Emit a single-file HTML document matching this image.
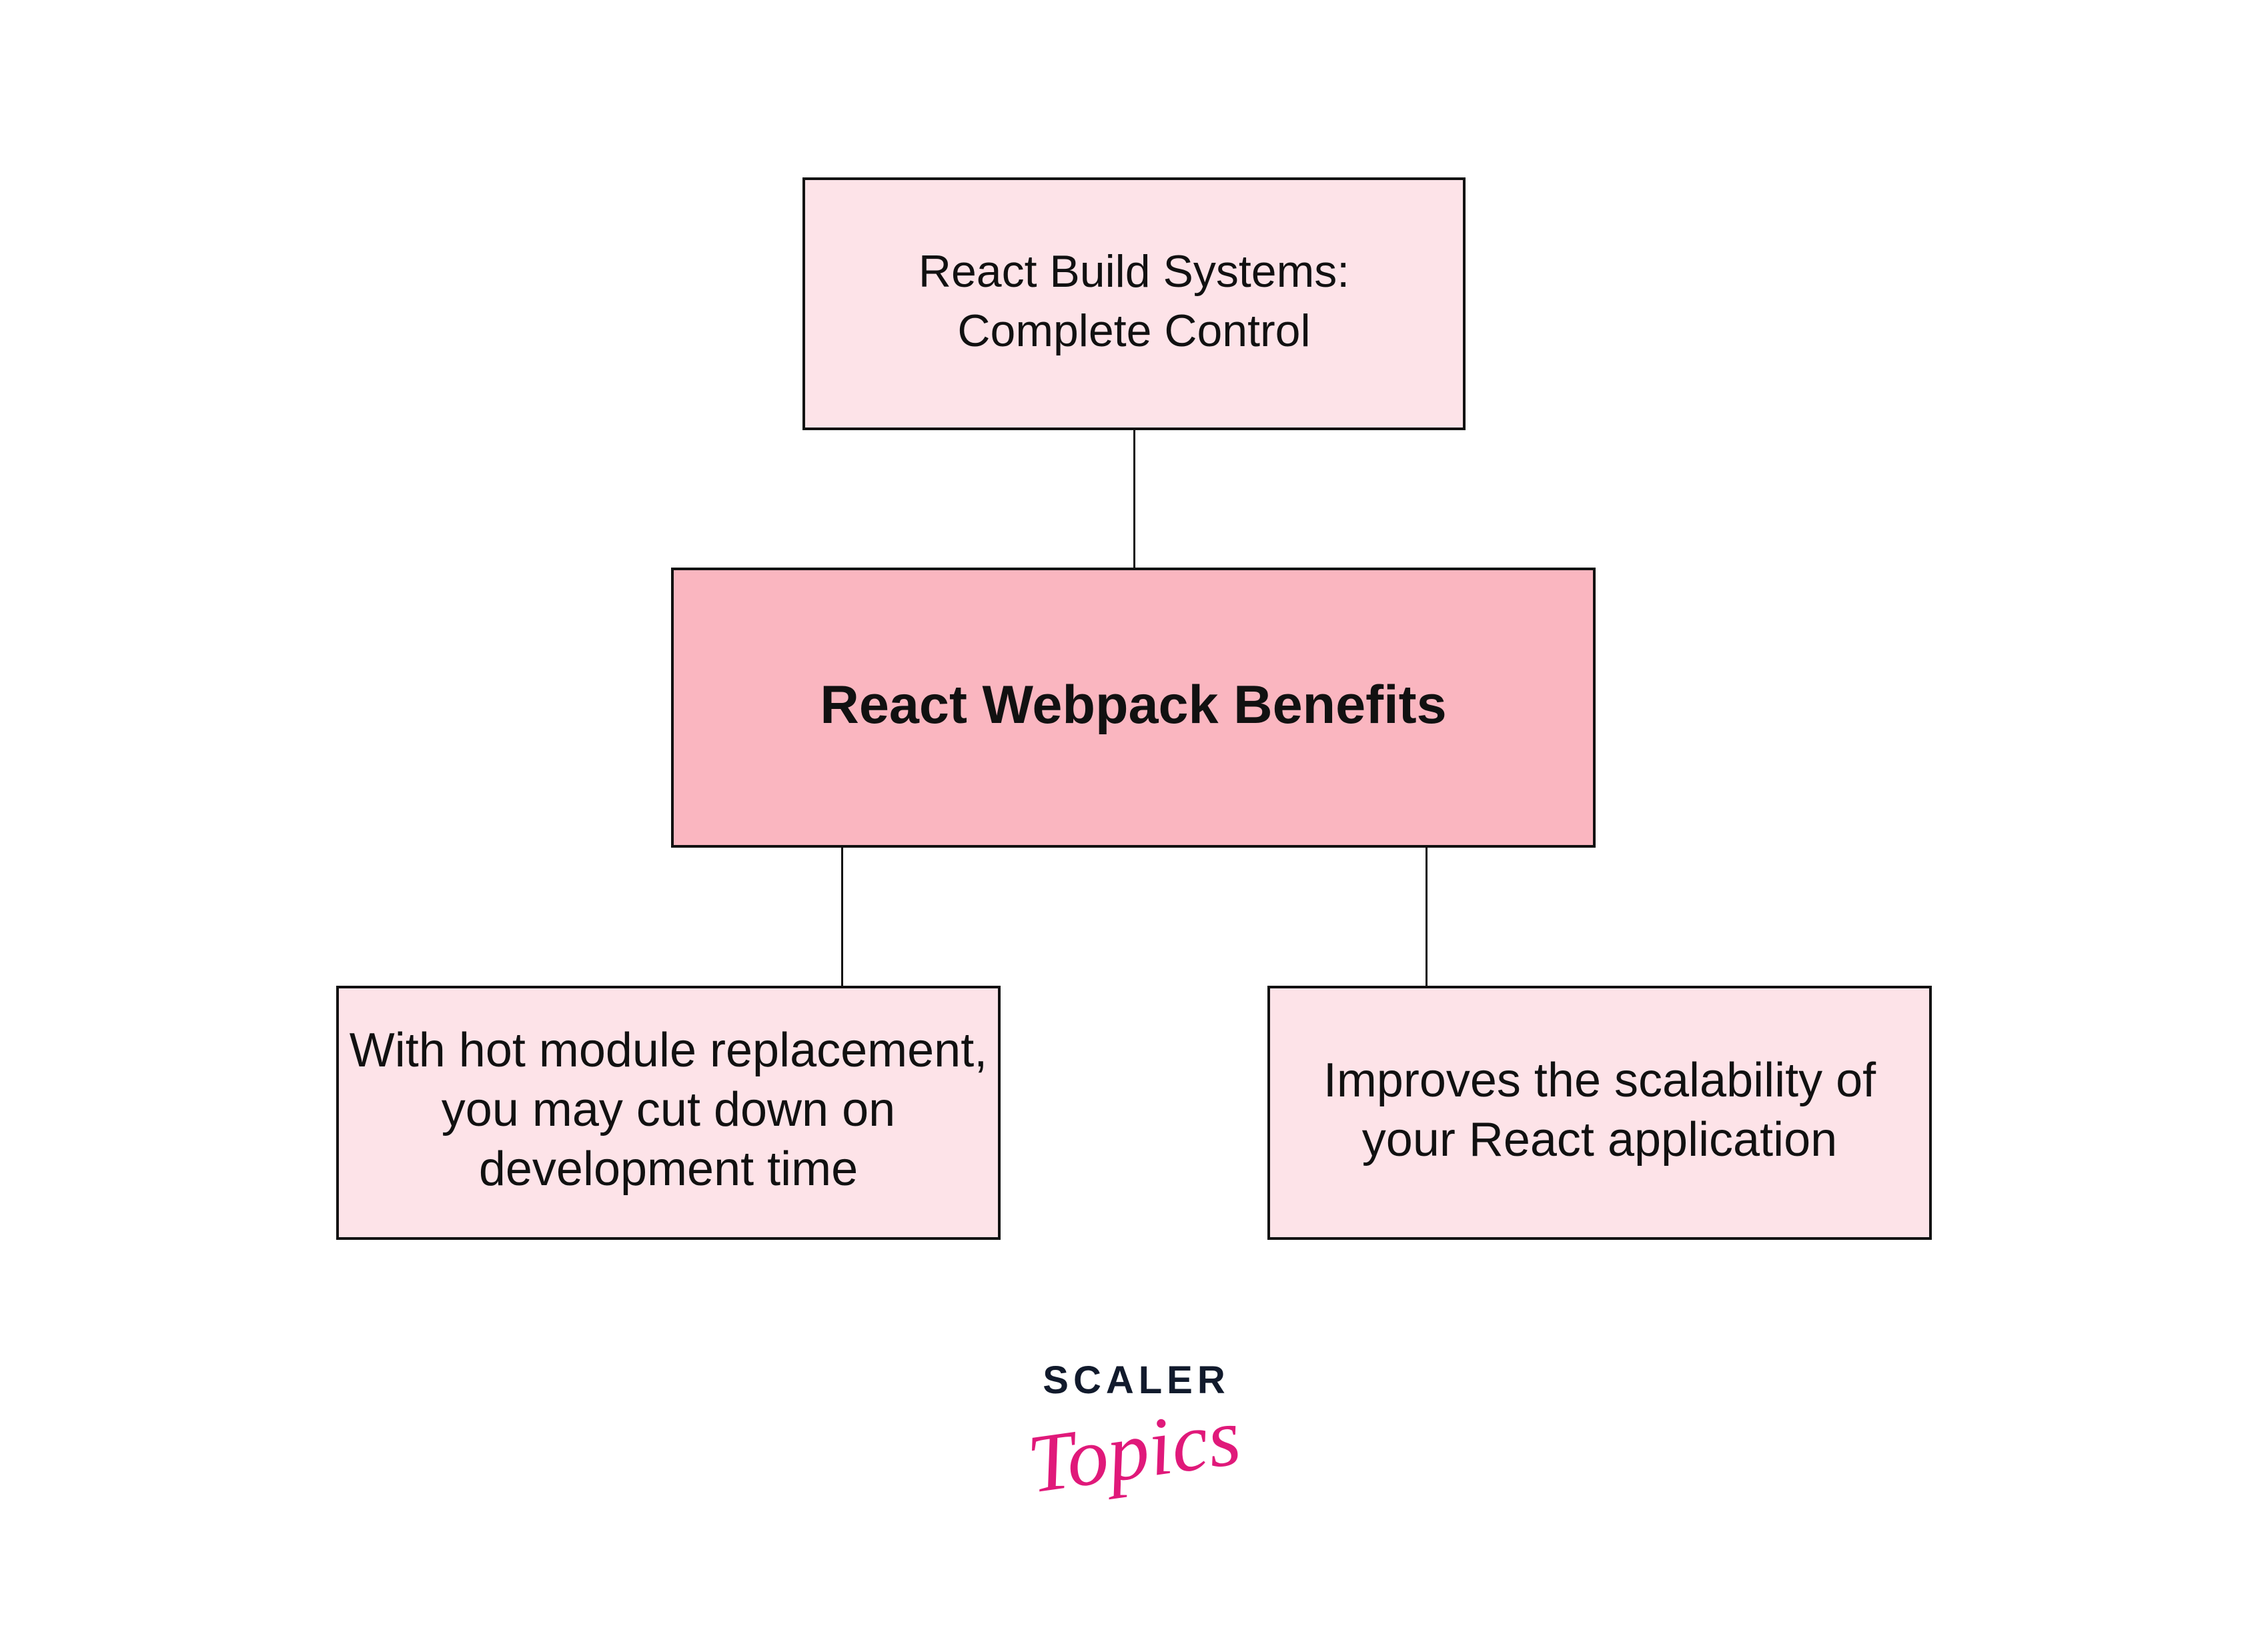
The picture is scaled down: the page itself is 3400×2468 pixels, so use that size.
<!DOCTYPE html>
<html><head><meta charset="utf-8"><style>
html,body{margin:0;padding:0;background:#fff;}
body{width:3400px;height:2468px;position:relative;overflow:hidden;font-family:"Liberation Sans",sans-serif;}
.b{position:absolute;box-sizing:border-box;border:4px solid #111;background:#fde3e8;display:flex;align-items:center;justify-content:center;text-align:center;font-size:72px;line-height:89px;color:#111;padding-bottom:8px;}
.l{position:absolute;background:#111;width:3px;}
</style></head><body>
<div class="b" style="left:1203px;top:266px;width:994px;height:379px;font-size:68px;">React Build Systems:<br>Complete Control</div>
<div class="l" style="left:1699px;top:644px;height:208px;"></div>
<div class="b" style="left:1006px;top:851px;width:1386px;height:420px;background:#fab6c0;font-weight:bold;font-size:81px;">React Webpack Benefits</div>
<div class="l" style="left:1261px;top:1270px;height:210px;"></div>
<div class="l" style="left:2137px;top:1270px;height:210px;"></div>
<div class="b" style="left:504px;top:1478px;width:996px;height:381px;">With hot module replacement,<br>you may cut down on<br>development time</div>
<div class="b" style="left:1900px;top:1478px;width:996px;height:381px;">Improves the scalability of<br>your React application</div>
<div style="position:absolute;left:1500px;top:2035px;width:400px;text-align:center;font-weight:bold;font-size:58px;letter-spacing:7px;color:#111a2c;line-height:70px;padding-left:7px;box-sizing:border-box;">SCALER</div>
<div style="position:absolute;left:1500px;top:2100px;width:400px;text-align:center;font-family:'Liberation Serif',serif;font-style:italic;font-size:124px;color:#e0197a;line-height:150px;transform:rotate(-8deg);">Topics</div>
</body></html>
